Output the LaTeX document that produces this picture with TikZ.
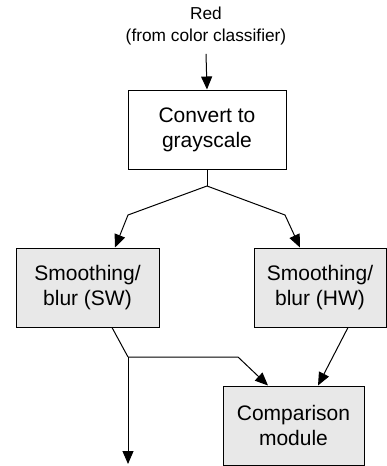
\documentclass[tikz,border=0pt]{standalone}
\usepackage{fontspec}
\setmainfont{Liberation Sans}
\usetikzlibrary{arrows.meta}

\begin{document}
\begin{tikzpicture}[x=1pt,y=-1pt,>={Triangle[length=13pt,width=11pt]},line width=1pt,
  stage/.style={draw,align=center,inner sep=0pt,font=\fontsize{21}{25}\selectfont},
  hwstage/.style={stage,fill=gray!18}]
  \useasboundingbox (0,0) rectangle (387,466);
  % input and first stage
  \node[align=center,font=\fontsize{17.3}{22}\selectfont] (red) at (206,26) {Red\\(from color classifier)};
  \node[stage,minimum width=158pt,minimum height=79pt] (gray) at (207,129.5) {Convert to\\grayscale};
  \draw[->] ([yshift=-5pt]red.south) -- (gray.north);
  % two smoothing paths
  \node[hwstage,minimum width=143pt,minimum height=79pt] (sw) at (87.5,287.5) {Smoothing/\\blur (SW)};
  \node[hwstage,minimum width=132pt,minimum height=79pt] (hw) at (320,287.5) {Smoothing/\\blur (HW)};
  \node[hwstage,minimum width=141pt,minimum height=79pt] (cmp) at (293.5,425.5) {Comparison\\module};
  \coordinate (split) at (207,186);
  \coordinate (lbend) at (128,215);
  \coordinate (rbend) at (285,215);
  \draw (gray.south) -- (split);
  \draw[->] (split) -- (lbend) -- ([xshift=27.5pt]sw.north);
  \draw[->] (split) -- (rbend) -- ([xshift=-20pt]hw.north);
  % outputs
  \coordinate (join) at (128,357);
  \coordinate (jbend) at (238,357);
  \coordinate (out) at (128,464);
  \draw ([xshift=24.5pt]sw.south) -- (join);
  \draw[->] (join) -- (jbend) -- ([xshift=-25.5pt]cmp.north);
  \draw[->] (join) -- (out);
  \draw[->] ([xshift=28pt]hw.south) -- ([xshift=24.5pt]cmp.north);
\end{tikzpicture}
\end{document}
